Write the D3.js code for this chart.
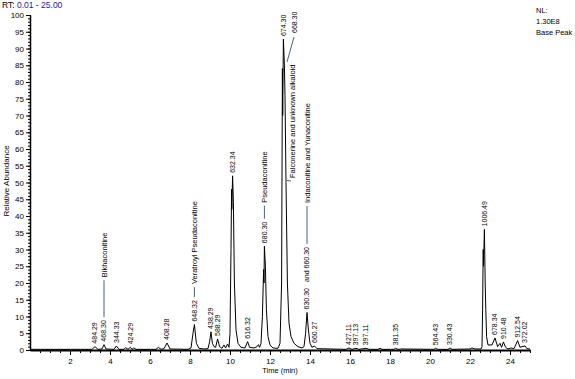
<!DOCTYPE html>
<html>
<head>
<meta charset="utf-8">
<script src="https://cdn.jsdelivr.net/npm/d3@7"></script>
<style>
body { margin: 0; background: #fff; }
svg { font-family: "Liberation Sans", Arial, sans-serif; }
</style>
</head>
<body>
<div id="chart"></div>
<script>
// Base peak chromatogram, RT 0.01 - 25.00 min

// trace (min, relative abundance %)
const traceTime = [
    0.0, 3.1, 3.25, 3.4, 3.6, 3.7, 3.8, 4.2, 4.32, 4.45, 4.7, 4.78, 4.9, 5.02, 5.1, 5.18, 5.3,
    6.3, 6.42, 6.55, 6.7, 6.85, 7.0, 7.9, 8.05, 8.15, 8.22, 8.32, 8.45, 8.7, 8.9, 8.98, 9.05,
    9.12, 9.2, 9.28, 9.38, 9.48, 9.6, 9.7, 9.78, 9.88, 9.95, 10.0, 10.05, 10.08, 10.09, 10.13,
    10.17, 10.22, 10.3, 10.4, 10.55, 10.75, 10.88, 10.98, 11.2, 11.35, 11.42, 11.48, 11.55,
    11.62, 11.68, 11.7, 11.72, 11.77, 11.82, 11.9, 12.0, 12.15, 12.4, 12.5, 12.58, 12.62,
    12.635, 12.67, 12.72, 12.75, 12.8, 12.87, 12.95, 13.05, 13.2, 13.4, 13.6, 13.7, 13.78,
    13.85, 13.92, 14.0, 14.1, 14.22, 14.35, 15.8, 15.95, 16.1, 16.3, 16.45, 16.8, 16.95, 17.4,
    17.5, 17.6, 18.2, 18.27, 18.4, 18.6, 20.2, 20.27, 20.4, 20.9, 21.0, 21.1, 22.0, 22.1,
    22.25, 22.55, 22.6, 22.63, 22.66, 22.675, 22.72, 22.76, 22.79, 22.83, 22.9, 23.1, 23.25,
    23.38, 23.5, 23.58, 23.67, 23.78, 23.9, 24.05, 24.2, 24.38, 24.5, 24.6, 24.75, 24.85, 25.0
];
const traceAbundance = [
    0.2, 0.2, 1.0, 0.2, 0.3, 1.6, 0.3, 0.2, 1.2, 0.2, 0.2, 0.7, 0.2, 0.8, 0.2, 0.6, 0.2,
    0.2, 0.8, 0.2, 0.4, 2.1, 0.3, 0.2, 0.6, 5.0, 7.6, 2.0, 0.5, 0.3, 0.4, 2.5, 5.4,
    2.0, 1.0, 0.8, 3.3, 1.0, 0.5, 1.5, 0.6, 1.8, 0.8, 5, 30, 48, 42, 52,
    44, 20, 6, 2, 0.8, 0.6, 2.5, 0.8, 0.6, 1.0, 1.6, 0.8, 2,
    10, 24, 20, 31, 25, 12, 4, 1.5, 0.6, 0.5, 2, 20, 84,
    70, 92.8, 85, 76, 50, 20, 8, 4, 2, 1, 0.6, 1.0, 5,
    11.2, 6, 2, 0.8, 1.2, 0.4, 0.2, 0.6, 0.2, 0.5, 0.2, 0.5, 0.2, 0.2,
    0.5, 0.2, 0.2, 0.5, 0.2, 0.3, 0.2, 0.5, 0.2, 0.2, 0.6, 0.2, 0.3, 0.6,
    0.3, 0.3, 1, 12, 30, 25, 36, 20, 12, 4, 1.5, 1.5, 3.6,
    1.0, 2.0, 0.8, 2.4, 0.8, 0.3, 0.6, 0.4, 2.8, 0.8, 1.0, 1.2, 0.4, 0.3
];

// labelled peaks (m/z of base peak)
const peakRT = [3.25, 3.7, 4.32, 5.02, 6.85, 8.22, 9.05, 9.38, 10.13, 10.88, 11.72, 12.67,
    13.85, 14.22, 15.95, 16.3, 16.8, 18.27, 20.27, 21.0, 22.72, 23.25, 23.67, 24.38, 24.75];
const peakMass = ["484.29", "468.30", "344.33", "424.29", "408.28", "648.32", "438.29", "588.29",
    "632.34", "616.32", "680.30", "674.30", "630.30", "660.27", "427.11", "397.13", "397.11",
    "381.35", "564.43", "330.43", "1006.49", "678.34", "910.48", "912.54", "372.02"];

// compound annotations
const compoundRT = [3.7, 8.22, 11.72, 13.85];
const compoundName = ["Bikhaconitine", "Veratroyl Pseudaconitine", "Pseudaconitine",
    "Indaconitine and Yunaconitine"];
const compoundExtra = ["", "", "", "and 660.30"];
const leaderLength = [37, 10, 13, 38];

// co-eluting peak under the 674.30 maximum
const shoulderRT = 12.75;
const shoulderMass = "668.30";
const shoulderName = "Falconerine and unknown alkaloid";

const xTicks = [2, 4, 6, 8, 10, 12, 14, 16, 18, 20, 22, 24];
const yTicks = [0, 5, 10, 15, 20, 25, 30, 35, 40, 45, 50, 55, 60, 65, 70, 75, 80, 85, 90, 95, 100];

const W = 575, H = 379;
const leaderColor = "#4d5f7e";

const svg = d3.select("#chart")
    .append("svg")
    .attr("width", W)
    .attr("height", H);

const x = d3.scaleLinear().domain([0, 25]).range([30, 530]);
const y = d3.scaleLinear().domain([0, 100]).range([350, 15]);

// header texts
const rt = svg.append("text")
    .attr("x", 2)
    .attr("y", 8)
    .style("font-size", "8.5px");
rt.append("tspan").attr("fill", "#000").text("RT: ");
rt.append("tspan").attr("fill", "#1a1aa0").text("0.01 - 25.00");

["NL:", "1.30E8", "Base Peak"].forEach((t, i) => {
    svg.append("text")
        .attr("x", 536)
        .attr("y", 13 + i * 11)
        .style("font-size", "7.5px")
        .text(t);
});

// Y axis, minor then major
svg.append("g")
    .attr("transform", "translate(30,0)")
    .call(d3.axisLeft(y).tickValues(d3.range(0, 101, 1)).tickSize(2).tickSizeOuter(0).tickFormat(""))
    .call(g => g.select(".domain").remove())
    .selectAll(".tick line").attr("stroke", "#000").attr("x2", -2).attr("x1", 1);

const yAxis = svg.append("g")
    .attr("transform", "translate(30,0)")
    .call(d3.axisLeft(y).tickValues(yTicks).tickSize(4).tickSizeOuter(0).tickPadding(2));
yAxis.select(".domain").attr("stroke", "#000").attr("stroke-width", 1.5);
yAxis.selectAll(".tick line").attr("stroke", "#000").attr("x1", 1);
yAxis.selectAll(".tick text").style("font-size", "8px").attr("fill", "#000");

// X axis
svg.append("g")
    .attr("transform", "translate(0,350)")
    .call(d3.axisBottom(x).tickValues(d3.range(0.5, 25.01, 0.5)).tickSize(3).tickSizeOuter(0).tickFormat(""))
    .call(g => g.select(".domain").remove())
    .selectAll(".tick line").attr("stroke", "#000");

const xAxis = svg.append("g")
    .attr("transform", "translate(0,350)")
    .call(d3.axisBottom(x).tickValues(xTicks).tickSize(5).tickSizeOuter(0).tickPadding(3));
xAxis.select(".domain").attr("stroke", "#000").attr("stroke-width", 2);
xAxis.selectAll(".tick line").attr("stroke", "#000");
xAxis.selectAll(".tick text").style("font-size", "8px").attr("fill", "#000");

// axis titles
svg.append("text")
    .attr("x", 280)
    .attr("y", 373)
    .attr("text-anchor", "middle")
    .style("font-size", "7.5px")
    .text("Time (min)");

svg.append("text")
    .attr("transform", "translate(9,181) rotate(-90)")
    .attr("text-anchor", "middle")
    .style("font-size", "8px")
    .text("Relative Abundance");

// the trace
const trace = traceTime.map((t, i) => ({ t: t, v: traceAbundance[i] }));
svg.append("path")
    .datum(trace)
    .attr("fill", "none")
    .attr("stroke", "#000")
    .attr("stroke-width", 1)
    .attr("d", d3.line().x(d => x(d.t)).y(d => y(d.v)));

// helper: apex height at a retention time
function apex(t) {
    const i = traceTime.findIndex(v => Math.abs(v - t) < 1e-6);
    return traceAbundance[i];
}

// rotated text reading bottom to top, bottom end at (px, py)
function vText(px, py, str, size) {
    const el = svg.append("text")
        .attr("transform", `translate(${px},${py}) rotate(-90)`)
        .attr("dy", "0.35em")
        .style("font-size", (size || 7) + "px")
        .text(str);
    return el.node().getComputedTextLength();
}

// peak mass labels
const labelTop = {};
peakRT.forEach((t, i) => {
    const bottom = y(apex(t)) - 3;
    const len = vText(x(t), bottom, peakMass[i]);
    labelTop[t] = bottom - len;
});

// compound names with leader lines
compoundRT.forEach((t, i) => {
    let top = labelTop[t];
    const px = x(t);
    if (compoundExtra[i]) {
        const len = vText(px, top - 6, compoundExtra[i]);
        top = top - 6 - len;
    }
    svg.append("line")
        .attr("x1", px).attr("x2", px)
        .attr("y1", top - 3).attr("y2", top - 3 - leaderLength[i])
        .attr("stroke", leaderColor)
        .attr("stroke-width", 1);
    vText(px, top - 6 - leaderLength[i], compoundName[i], 7.5);
});

// 668.30 and its name, offset to the right of the main maximum
vText(x(shoulderRT) + 10, 33, shoulderMass);
svg.append("line")
    .attr("x1", x(shoulderRT) + 9).attr("y1", 37)
    .attr("x2", x(shoulderRT) + 2).attr("y2", y(apex(shoulderRT) + 10))
    .attr("stroke", leaderColor);
vText(x(shoulderRT) + 7, 178, shoulderName, 7.5);
svg.append("line")
    .attr("x1", x(shoulderRT) + 6).attr("y1", 181)
    .attr("x2", x(12.8) + 1).attr("y2", y(apex(12.8)) - 2)
    .attr("stroke", leaderColor);
</script>
</body>
</html>
